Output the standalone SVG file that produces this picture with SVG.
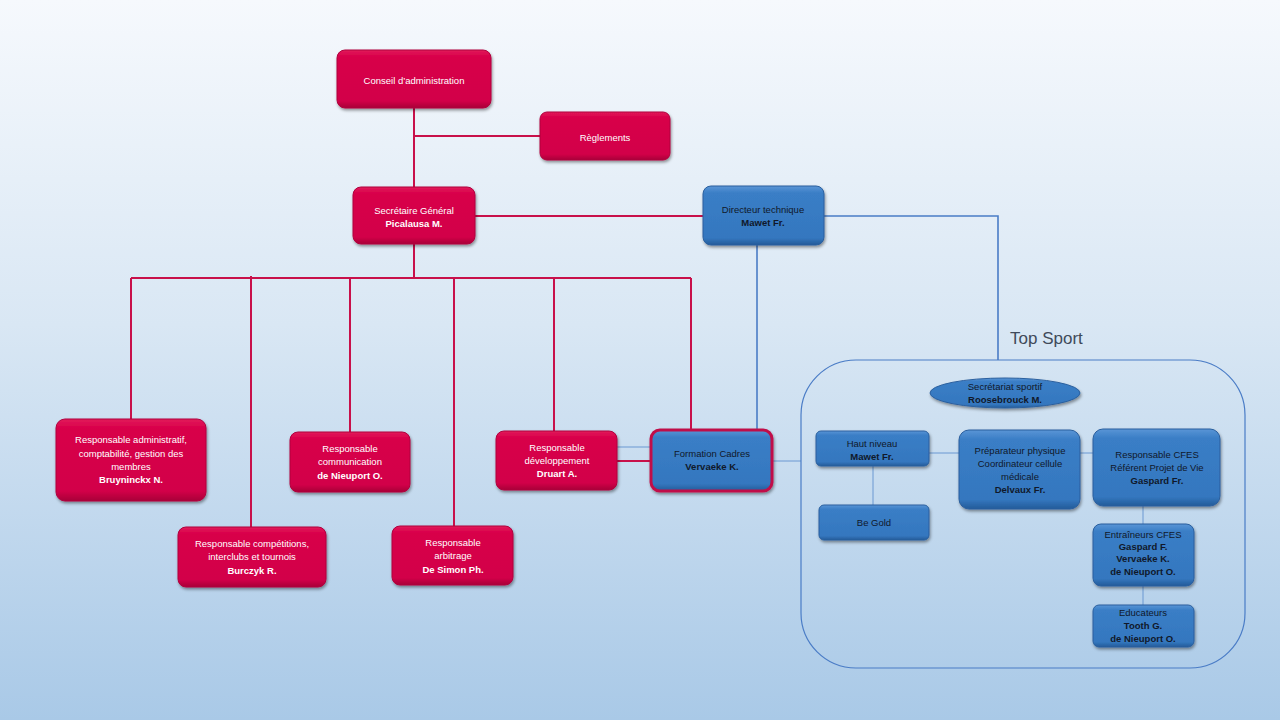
<svg xmlns="http://www.w3.org/2000/svg" width="1280" height="720" viewBox="0 0 1280 720">
<defs>
<linearGradient id="bg" x1="0" y1="0" x2="0" y2="1">
<stop offset="0" stop-color="#f6f9fd"/>
<stop offset="0.45" stop-color="#d9e7f4"/>
<stop offset="1" stop-color="#a9c9e7"/>
</linearGradient>
<linearGradient id="red" x1="0" y1="0" x2="0" y2="1">
<stop offset="0" stop-color="#e2185a"/>
<stop offset="0.12" stop-color="#d8004a"/>
<stop offset="0.88" stop-color="#d20048"/>
<stop offset="1" stop-color="#a80038"/>
</linearGradient>
<linearGradient id="blue" x1="0" y1="0" x2="0" y2="1">
<stop offset="0" stop-color="#5a95d6"/>
<stop offset="0.12" stop-color="#3a7ec6"/>
<stop offset="0.88" stop-color="#3477bf"/>
<stop offset="1" stop-color="#245b99"/>
</linearGradient>
<filter id="sh" x="-10%" y="-10%" width="125%" height="135%">
<feDropShadow dx="1" dy="2" stdDeviation="1.5" flood-color="#000" flood-opacity="0.4"/>
</filter>
</defs>
<style>
.r{fill:url(#red);stroke:#b0003e;stroke-width:1;filter:url(#sh)}
.b{fill:url(#blue);stroke:#2a5f9e;stroke-width:1;filter:url(#sh)}
.tw{font-family:"Liberation Sans",Arial,sans-serif;font-size:9.5px;fill:#ffffff;text-anchor:middle}
.tb{font-family:"Liberation Sans",Arial,sans-serif;font-size:9.5px;fill:#10182a;text-anchor:middle}
.bold{font-weight:bold}
.lr{stroke:#c8104a;stroke-width:2;fill:none}
.lb{stroke:#4a7cc6;stroke-width:1.6;fill:none}
.lt{stroke:#6b98d2;stroke-width:1;fill:none}
</style>
<rect width="1280" height="720" fill="url(#bg)"/>

<g id="connectors">
<path class="lr" d="M414 108V187"/>
<path class="lr" d="M414 136H540"/>
<path class="lr" d="M475 216H703"/>
<path class="lr" d="M414 244V278"/>
<path class="lr" d="M131 278H691"/>
<path class="lr" d="M131 278V419"/>
<path class="lr" d="M251 276V527"/>
<path class="lr" d="M350 278V432"/>
<path class="lr" d="M454 278V526"/>
<path class="lr" d="M554 278V431"/>
<path class="lr" d="M691 278V430"/>
<path class="lr" d="M617 461H650"/>
<path class="lt" d="M617 447H650"/>
<path class="lb" d="M757 245V430"/>
<path class="lb" d="M824 216H998V360"/>
<path class="lt" d="M773 461H801"/>
<path class="lt" d="M873 466V505"/>
<path class="lt" d="M929 453H959"/>
<path class="lt" d="M1080 453H1093"/>
<path class="lt" d="M1143 506V524"/>
<path class="lt" d="M1143 586V605"/>
</g>

<g id="topsport">
<rect x="801" y="360" width="444" height="308" rx="55" fill="none" stroke="#4a7cc6" stroke-width="1.2"/>
<text x="1010" y="344" font-family="Liberation Sans,Arial,sans-serif" font-size="17" fill="#404a5a">Top Sport</text>
</g>

<g id="conseil">
<rect class="r" x="337" y="50" width="154" height="58" rx="8"/>
<text class="tw" x="414" y="84">Conseil d’administration</text>
</g>
<g id="reglements">
<rect class="r" x="540" y="112" width="130" height="48" rx="7"/>
<text class="tw" x="605" y="141">Règlements</text>
</g>
<g id="secretaire">
<rect class="r" x="353" y="187" width="122" height="57" rx="8"/>
<text class="tw" x="414" y="214">Secrétaire Général</text>
<text class="tw bold" x="414" y="227">Picalausa M.</text>
</g>
<g id="directeur">
<rect class="b" x="703" y="186" width="121" height="59" rx="8"/>
<text class="tb" x="763" y="213">Directeur technique</text>
<text class="tb bold" x="763" y="226">Mawet Fr.</text>
</g>
<g id="resp-admin">
<rect class="r" x="56" y="419" width="150" height="82" rx="9"/>
<text class="tw" x="131" y="443">Responsable administratif,</text>
<text class="tw" x="131" y="457">comptabilité, gestion des</text>
<text class="tw" x="131" y="470">membres</text>
<text class="tw bold" x="131" y="483">Bruyninckx N.</text>
</g>
<g id="resp-competitions">
<rect class="r" x="178" y="527" width="148" height="60" rx="8"/>
<text class="tw" x="252" y="547">Responsable compétitions,</text>
<text class="tw" x="252" y="560">interclubs et tournois</text>
<text class="tw bold" x="252" y="574">Burczyk R.</text>
</g>
<g id="resp-communication">
<rect class="r" x="290" y="432" width="120" height="60" rx="8"/>
<text class="tw" x="350" y="452">Responsable</text>
<text class="tw" x="350" y="465">communication</text>
<text class="tw bold" x="350" y="479">de Nieuport O.</text>
</g>
<g id="resp-arbitrage">
<rect class="r" x="392" y="526" width="121" height="59" rx="8"/>
<text class="tw" x="453" y="546">Responsable</text>
<text class="tw" x="453" y="559">arbitrage</text>
<text class="tw bold" x="453" y="573">De Simon Ph.</text>
</g>
<g id="resp-developpement">
<rect class="r" x="496" y="431" width="121" height="59" rx="8"/>
<text class="tw" x="557" y="451">Responsable</text>
<text class="tw" x="557" y="464">développement</text>
<text class="tw bold" x="557" y="477">Druart A.</text>
</g>
<g id="formation-cadres">
<rect x="651" y="430" width="121" height="61" rx="9" fill="url(#blue)" stroke="#c0104a" stroke-width="3" filter="url(#sh)"/>
<text class="tb" x="712" y="457">Formation Cadres</text>
<text class="tb bold" x="712" y="470">Vervaeke K.</text>
</g>
<g id="secretariat-sportif">
<ellipse class="b" cx="1005" cy="393" rx="75" ry="15"/>
<text class="tb" x="1005" y="390">Secrétariat sportif</text>
<text class="tb bold" x="1005" y="403">Roosebrouck M.</text>
</g>
<g id="haut-niveau">
<rect class="b" x="816" y="431" width="113" height="35" rx="5"/>
<text class="tb" x="872" y="447">Haut niveau</text>
<text class="tb bold" x="872" y="460">Mawet Fr.</text>
</g>
<g id="be-gold">
<rect class="b" x="819" y="505" width="110" height="35" rx="5"/>
<text class="tb" x="874" y="526">Be Gold</text>
</g>
<g id="preparateur">
<rect class="b" x="959" y="430" width="121" height="79" rx="10"/>
<text class="tb" x="1020" y="454">Préparateur physique</text>
<text class="tb" x="1020" y="467">Coordinateur cellule</text>
<text class="tb" x="1020" y="480">médicale</text>
<text class="tb bold" x="1020" y="493">Delvaux Fr.</text>
</g>
<g id="responsable-cfes">
<rect class="b" x="1093" y="429" width="127" height="77" rx="10"/>
<text class="tb" x="1157" y="458">Responsable CFES</text>
<text class="tb" x="1157" y="471">Référent Projet de Vie</text>
<text class="tb bold" x="1157" y="484">Gaspard Fr.</text>
</g>
<g id="entraineurs-cfes">
<rect class="b" x="1093" y="524" width="101" height="62" rx="8"/>
<text class="tb" x="1143" y="538">Entraîneurs CFES</text>
<text class="tb bold" x="1143" y="550">Gaspard F.</text>
<text class="tb bold" x="1143" y="562">Vervaeke K.</text>
<text class="tb bold" x="1143" y="575">de Nieuport O.</text>
</g>
<g id="educateurs">
<rect class="b" x="1093" y="605" width="101" height="42" rx="6"/>
<text class="tb" x="1143" y="616">Educateurs</text>
<text class="tb bold" x="1143" y="629">Tooth G.</text>
<text class="tb bold" x="1143" y="642">de Nieuport O.</text>
</g>
</svg>
